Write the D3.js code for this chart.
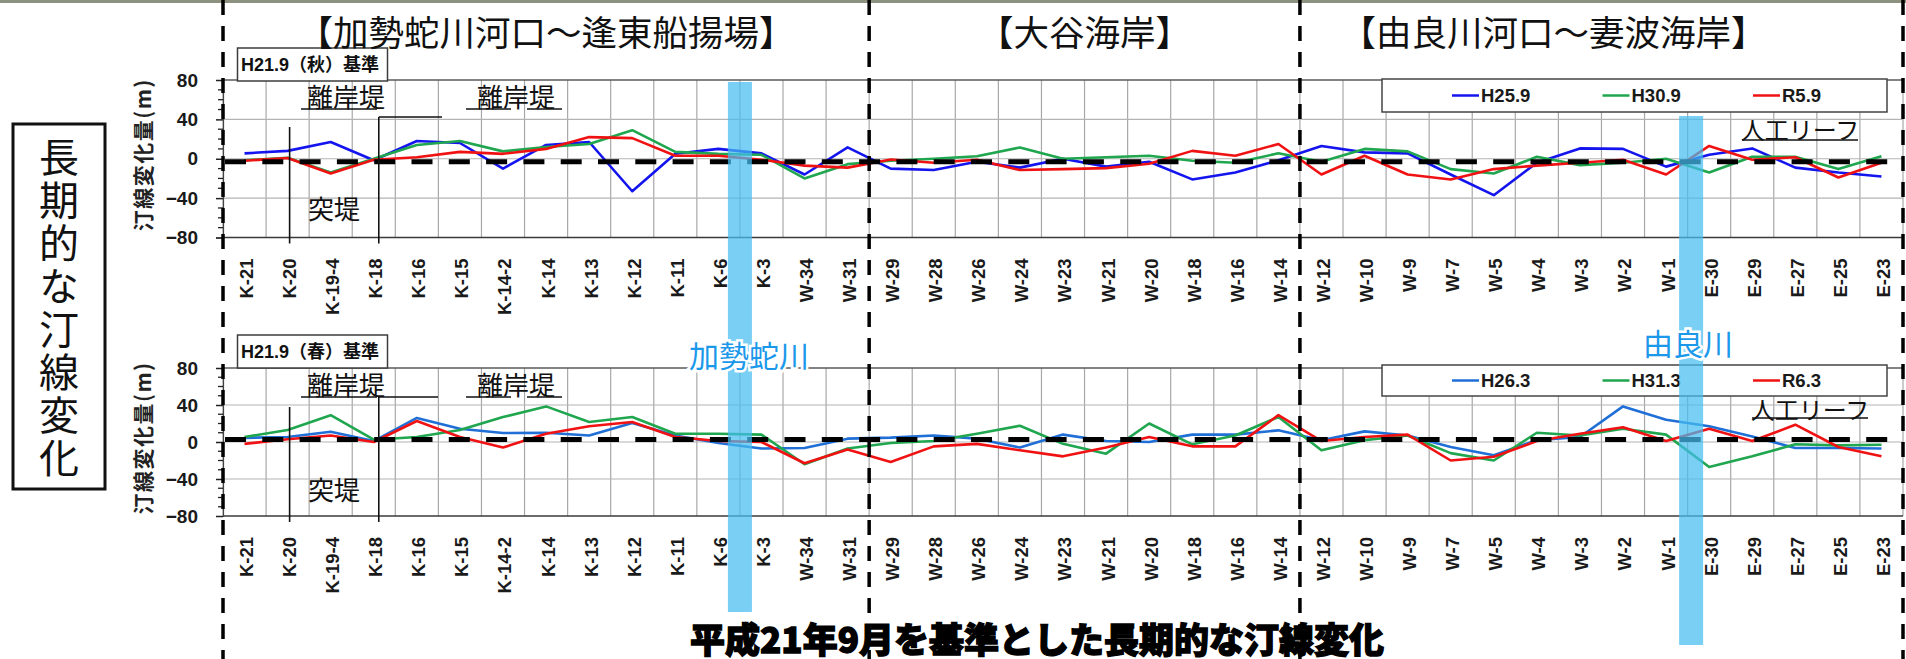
<!DOCTYPE html>
<html>
<head>
<meta charset="utf-8">
<script src="https://cdn.jsdelivr.net/npm/d3@7"></script>
<style>
  html, body { margin: 0; padding: 0; background: #fff; }
  svg { display: block; }
</style>
</head>
<body>
<svg id="chart" width="1906" height="659"></svg>
<script>
// Survey line names along the coast, west to east
const categories = ["K-21","K-20","K-19-4","K-18","K-16","K-15","K-14-2","K-14","K-13","K-12","K-11","K-6","K-3",
  "W-34","W-31","W-29","W-28","W-26","W-24","W-23","W-21","W-20","W-18","W-16","W-14",
  "W-12","W-10","W-9","W-7","W-5","W-4","W-3","W-2","W-1","E-30","E-29","E-27","E-25","E-23"];

// Shoreline change (m) relative to the autumn H21.9 survey
const autumnNames = ["H25.9", "H30.9", "R5.9"];
const autumnH25 = [5.5, 8, 17, -1.5, 18, 16, -10, 14, 17, -33, 5, 10, 5.5,
  -16, 11.5, -10, -11.5, -3, -9, 0, -8, -3, -21, -14, -1.5,
  13, 6.5, 5.5, -16, -37, -4, 10.5, 10, -8, 4, 10.5, -9, -14, -18];
const autumnH30 = [-1.5, 1, -14, 0, 14, 18, 7.5, 12, 15, 29, 7, 5, 4,
  -20, -5.5, -2, 0, 2.5, 11.5, 0, 1.5, 3, -2, -4, 5.5,
  -3, 10, 7.5, -10.5, -15, 2, -6.5, -4, 0, -14, 2, 2, -10.5, 2.5];
const autumnR5 = [-2, 0.7, -15, -1, 1.5, 7, 5, 10, 22, 21, 3, 3, -1,
  -7, -9, -0.7, -4, -1, -11.5, -10.5, -9.5, -5, 8, 3, 15,
  -16, 3, -16, -21, -10.5, -7, -4, -1, -16, 13, -1, 1.5, -19, -4];

// Shoreline change (m) relative to the spring H21.9 survey
const springNames = ["H26.3", "H31.3", "R6.3"];
const springH26 = [4.5, 5.4, 11, 1, 26, 14.4, 9.7, 10, 7, 20.5, 7, -1, -7,
  -6.5, 3.6, 4.7, 7, 3.6, -6, 8, 1, 0, 8, 8, 12.6,
  2, 11.5, 7, -5.4, -14.4, 2, 5.4, 38.5, 24, 17, 6, -6.5, -6.5, -7];
const springH31 = [5.4, 13, 29, 2.5, 5.4, 13, 27, 38.5, 21.6, 27, 9, 9, 8,
  -24, -7, -1, 1, 9, 17.6, -2, -12.6, 20, -2.5, 7, 27,
  -9, 2, 7, -12, -20, 10, 7, 14.4, 8, -27, -15.5, -2.5, -3.6, -3];
const springR6 = [-2, 3, 7, 0, 22.7, 5.4, -6, 9, 17, 21.6, 5.4, 1, 0,
  -23, -8, -21.6, -4.7, -2, -9, -15.5, -6, 5.4, -4.7, -4.7, 29,
  1, 5.4, 8, -20, -16, 1, 9, 16, 1, 14.4, 1, 18.7, -5.4, -15.5];

const yTicks = [80, 40, 0, -40, -80];

// Coastal sections: first survey line of each, with its heading
const sectionStarts = ["K-21", "W-29", "W-12"];
const sectionTitles = ["【加勢蛇川河口～逢東船揚場】", "【大谷海岸】", "【由良川河口～妻波海岸】"];

// River mouths: the survey line just east of each river
const riverNames = ["加勢蛇川", "由良川"];
const riverAfter = ["K-3", "E-30"];

const sideTitle = "長期的な汀線変化";
const bottomTitle = "平成21年9月を基準とした長期的な汀線変化";

const LATIN = "'Liberation Sans', 'Noto Sans CJK JP', sans-serif";
const CJK = "'Noto Sans CJK JP', 'Liberation Sans', sans-serif";

const svg = d3.select("#chart");
svg.append("rect").attr("width", 1906).attr("height", 659).attr("fill", "#fff");
// thin strip of aerial photo showing along the top edge
svg.append("rect").attr("width", 1906).attr("height", 3).attr("fill", "#8d917f");

const x = d3.scaleBand().domain(categories).range([223, 1903]).padding(0);
const bw = x.bandwidth();
const cx = c => x(c) + bw / 2;
const xEnd = x.range()[1];

const panels = [
  { base: "H21.9（秋）基準", names: autumnNames, series: [autumnH25, autumnH30, autumnR5],
    colors: ["#1414ee", "#1fa64e", "#f01212"],
    top: 80, bottom: 237.5, zeroShift: 3, boxY: 48, legendY: 79, legendH: 33,
    reefY: 128, reefX: 1800, reefLineY: 140, groinTop: 127, breakTop: 117, breakEnd: 442 },
  { base: "H21.9（春）基準", names: springNames, series: [springH26, springH31, springR6],
    colors: ["#1f6fd6", "#1fa64e", "#f01212"],
    top: 368, bottom: 516, zeroShift: -2.5, boxY: 335, legendY: 365, legendH: 31,
    reefY: 408, reefX: 1810, reefLineY: 418, groinTop: 407, breakTop: 397, breakEnd: 438 }
];

const layers = {
  panels: svg.append("g"),
  bands: svg.append("g"),
  dividers: svg.append("g"),
  labels: svg.append("g")
};

panels.forEach(p => {
  const y = d3.scaleLinear().domain([-80, 80]).range([p.bottom, p.top]);
  const g = layers.panels.append("g");

  // vertical grid at category boundaries
  const edges = categories.map(c => x(c)).concat([xEnd]);
  g.append("g").selectAll("line").data(edges).join("line")
    .attr("x1", d => d).attr("x2", d => d)
    .attr("y1", p.top).attr("y2", p.bottom)
    .attr("stroke", "#a8a8a8").attr("stroke-width", 1.2);

  // horizontal grid
  g.append("g").selectAll("line").data([40, 0, -40]).join("line")
    .attr("x1", 223).attr("x2", xEnd)
    .attr("y1", d => y(d)).attr("y2", d => y(d))
    .attr("stroke", "#b4b4b4").attr("stroke-width", 1.2);

  g.append("line").attr("x1", 223).attr("x2", xEnd).attr("y1", y(80)).attr("y2", y(80))
    .attr("stroke", "#5a5a5a").attr("stroke-width", 1.5);
  g.append("line").attr("x1", 223).attr("x2", xEnd).attr("y1", y(-80)).attr("y2", y(-80))
    .attr("stroke", "#3a3a3a").attr("stroke-width", 1.6);

  // shoreline change series
  const line = d3.line().x((d, i) => cx(categories[i])).y(d => y(d));
  p.series.forEach((s, k) => {
    g.append("path").datum(s).attr("d", line)
      .attr("fill", "none").attr("stroke", p.colors[k])
      .attr("stroke-width", 2.6).attr("stroke-linejoin", "round");
  });

  // dashed reference line at zero change
  g.append("line")
    .attr("x1", 225).attr("x2", cx(categories[categories.length - 1]) + 6)
    .attr("y1", y(0) + p.zeroShift).attr("y2", y(0) + p.zeroShift)
    .attr("stroke", "#000").attr("stroke-width", 5)
    .attr("stroke-dasharray", "21,16.3");

  // y axis
  const ya = g.append("g").attr("transform", "translate(223,0)")
    .call(d3.axisLeft(y).tickValues(yTicks).tickSize(7).tickPadding(18));
  ya.select(".domain").attr("stroke", "#444").attr("stroke-width", 1.2);
  ya.selectAll(".tick line").attr("stroke", "#222").attr("stroke-width", 1.5);
  ya.selectAll("text").attr("font-family", LATIN).attr("font-weight", "bold")
    .attr("font-size", 19).attr("fill", "#1a1a1a");
  g.append("g").selectAll("line").data(d3.range(-70, 80, 10).filter(v => v % 40 !== 0)).join("line")
    .attr("x1", 218).attr("x2", 223).attr("y1", d => y(d)).attr("y2", d => y(d))
    .attr("stroke", "#222").attr("stroke-width", 1.3);

  // category labels, rotated
  const xa = g.append("g").attr("transform", `translate(0,${p.bottom})`)
    .call(d3.axisBottom(x).tickSize(0).tickPadding(0));
  xa.select(".domain").remove();
  xa.selectAll("text")
    .attr("font-family", LATIN).attr("font-weight", "bold").attr("font-size", 18.5)
    .attr("fill", "#1a1a1a")
    .attr("text-anchor", "end").attr("dy", "0.35em").attr("y", 0).attr("x", 0)
    .attr("transform", "translate(2,21) rotate(-90)");

  // axis title
  g.append("text")
    .attr("transform", `translate(142,${p.top + (p.bottom - p.top) / 2 - 4}) rotate(-90)`)
    .attr("text-anchor", "middle").attr("dominant-baseline", "central")
    .attr("font-family", CJK).attr("font-weight", "bold").attr("font-size", 21)
    .attr("letter-spacing", 1.5).attr("fill", "#222")
    .text("汀線変化量(m)");

  // base survey box
  g.append("rect").attr("x", 237.5).attr("y", p.boxY).attr("width", 150).attr("height", 33)
    .attr("fill", "#fff").attr("stroke", "#3c3c3c").attr("stroke-width", 1.5);
  g.append("text").attr("x", 241).attr("y", p.boxY + 17)
    .attr("dominant-baseline", "central")
    .attr("font-family", LATIN).attr("font-weight", "bold").attr("font-size", 18)
    .attr("fill", "#111").text(p.base);

  // structure annotations
  const ann = g.append("g").attr("font-family", CJK).attr("fill", "#111");
  const labelY = p.top + 15;
  const lineY = p.top + 29;
  ann.append("text").attr("x", 346).attr("y", labelY).attr("text-anchor", "middle")
    .attr("dominant-baseline", "central").attr("font-size", 26).text("離岸堤");
  ann.append("text").attr("x", 516).attr("y", labelY).attr("text-anchor", "middle")
    .attr("dominant-baseline", "central").attr("font-size", 26).text("離岸堤");
  ann.append("text").attr("x", 334).attr("y", y(-50)).attr("text-anchor", "middle")
    .attr("dominant-baseline", "central").attr("font-size", 26).text("突堤");
  ann.append("text").attr("x", p.reefX).attr("y", p.reefY).attr("text-anchor", "middle")
    .attr("dominant-baseline", "central").attr("font-size", 24).text("人工リーフ");

  const segs = [
    [301, lineY, 377, lineY],
    [466, lineY, 511, lineY],
    [527, lineY, 562, lineY],
    [p.reefX - 58, p.reefLineY, p.reefX + 58, p.reefLineY],
    [cx("K-20") + 2, p.groinTop, cx("K-20") + 2, p.bottom + 6],
    [cx("K-18") + 5, p.breakTop, cx("K-18") + 5, p.bottom + 6],
    [cx("K-18") + 5, p.breakTop, p.breakEnd, p.breakTop]
  ];
  ann.append("g").selectAll("line").data(segs).join("line")
    .attr("x1", d => d[0]).attr("y1", d => d[1]).attr("x2", d => d[2]).attr("y2", d => d[3])
    .attr("stroke", "#111").attr("stroke-width", 1.6);

  // legend
  const lg = g.append("g");
  lg.append("rect").attr("x", 1382).attr("y", p.legendY).attr("width", 505).attr("height", p.legendH)
    .attr("fill", "#fff").attr("stroke", "#444").attr("stroke-width", 1.5);
  p.names.forEach((n, k) => {
    const lx = 1452 + k * 150.5;
    const ly = p.legendY + p.legendH / 2;
    lg.append("line").attr("x1", lx).attr("x2", lx + 27).attr("y1", ly).attr("y2", ly)
      .attr("stroke", p.colors[k]).attr("stroke-width", 2.5);
    lg.append("text").attr("x", lx + 29).attr("y", ly).attr("dominant-baseline", "central")
      .attr("font-family", LATIN).attr("font-weight", "bold").attr("font-size", 18.5)
      .attr("fill", "#1a1a1a").text(n);
  });
});

// river mouth bands
const bandSpan = [[82, 612], [116, 645]];
const riverLabelPos = [[9, 354], [-3, 342]];
riverAfter.forEach((c, i) => {
  const bx = x(c) + (i === 1 ? 3.5 : 0);
  layers.bands.append("rect")
    .attr("x", bx - 12).attr("y", bandSpan[i][0]).attr("width", 24)
    .attr("height", bandSpan[i][1] - bandSpan[i][0])
    .attr("fill", "#45bdf0").attr("fill-opacity", 0.72);
  layers.labels.append("text")
    .attr("x", bx + riverLabelPos[i][0]).attr("y", riverLabelPos[i][1])
    .attr("text-anchor", "middle").attr("dominant-baseline", "central")
    .attr("font-family", CJK).attr("font-size", 30).attr("fill", "#1b98ea")
    .attr("stroke", "#fff").attr("stroke-width", 5).attr("paint-order", "stroke")
    .text(riverNames[i]);
});

// section dividers and headings
const divX = sectionStarts.map(c => x(c)).concat([xEnd]);
layers.dividers.selectAll("line").data(divX).join("line")
  .attr("x1", d => d).attr("x2", d => d).attr("y1", 0).attr("y2", 659)
  .attr("stroke", "#000").attr("stroke-width", 3.5).attr("stroke-dasharray", "15,11");
const titleShift = [0, 0, -48];
sectionTitles.forEach((t, i) => {
  layers.labels.append("text")
    .attr("x", (divX[i] + divX[i + 1]) / 2 + titleShift[i]).attr("y", 30)
    .attr("text-anchor", "middle").attr("dominant-baseline", "central")
    .attr("font-family", CJK).attr("font-size", 35.5).attr("fill", "#111")
    .text(t);
});

// side title box, vertical text
layers.labels.append("rect").attr("x", 13).attr("y", 124).attr("width", 92).attr("height", 365)
  .attr("fill", "#fff").attr("stroke", "#111").attr("stroke-width", 3);
layers.labels.append("text")
  .attr("x", 59).attr("y", 137)
  .attr("writing-mode", "vertical-rl")
  .attr("font-family", CJK).attr("font-size", 40).attr("letter-spacing", 3)
  .attr("fill", "#111")
  .text(sideTitle);

// bottom caption
layers.labels.append("text").attr("x", 1037).attr("y", 637)
  .attr("text-anchor", "middle").attr("dominant-baseline", "central")
  .attr("font-family", CJK).attr("font-weight", 900).attr("font-size", 35)
  .attr("fill", "#000").attr("stroke", "#000").attr("stroke-width", 1.3)
  .text(bottomTitle);
</script>
</body>
</html>
